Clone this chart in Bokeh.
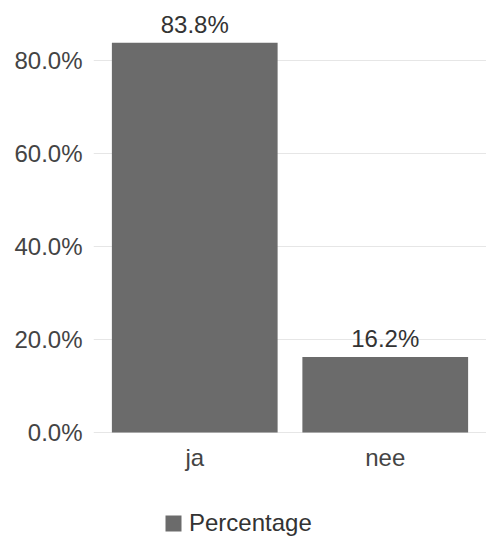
from bokeh.plotting import figure
from bokeh.models import (ColumnDataSource, FactorRange, Range1d, FixedTicker,
                          PrintfTickFormatter, Legend, LegendItem, LabelSet)
from bokeh.core.properties import value
from bokeh.embed import file_html
from bokeh.resources import INLINE

# Survey answers and their share of responses (in %)
categories = ["ja", "nee"]
percentages = [83.8, 16.2]
y_ticks = [0, 20, 40, 60, 80]
series_name = "Percentage"

FONT = "Liberation Sans"
BAR_COLOR = "#6b6b6b"

source = ColumnDataSource(data=dict(
    cat=categories,
    pct=percentages,
    base=[0] * len(categories),
    label=[f"{v:.1f}%" for v in percentages],
))

# The plot area runs down to the bottom edge so that the category names and
# the legend sit inside it, below the zero line.
p = figure(
    width=486, height=537,
    x_range=FactorRange(factors=categories, range_padding=0.0315,
                        range_padding_units="absolute"),
    y_range=Range1d(-22.6, 90.1),
    output_backend="svg", toolbar_location=None,
    min_border_top=13, min_border_right=0, min_border_left=93, min_border_bottom=0,
)
p.outline_line_color = None
p.background_fill_color = "white"
p.border_fill_color = "white"

bars = p.vbar(x="cat", top="pct", bottom="base", width=0.87, source=source,
              fill_color=BAR_COLOR, line_color=None)

# value labels above the bars
p.add_layout(LabelSet(x="cat", y="pct", text="label", source=source,
                      text_align="center", text_baseline="alphabetic", y_offset=10,
                      text_font=value(FONT), text_font_size=value("24px"),
                      text_color="#333333"))

# category names under the zero line
p.add_layout(LabelSet(x="cat", y="base", text="cat", source=source,
                      text_align="center", text_baseline="top", y_offset=-12,
                      text_font=value(FONT), text_font_size=value("24px"),
                      text_color="#444444"))
p.xaxis.visible = False

# y axis
p.yaxis.ticker = FixedTicker(ticks=y_ticks)
p.yaxis.formatter = PrintfTickFormatter(format="%.1f%%")
p.yaxis.axis_line_color = None
p.yaxis.major_tick_line_color = None
p.yaxis.minor_tick_line_color = None
p.yaxis.major_label_text_font = FONT
p.yaxis.major_label_text_font_size = "24px"
p.yaxis.major_label_text_color = "#444444"
p.yaxis.major_label_standoff = 5

p.xgrid.grid_line_color = None
p.ygrid.ticker = FixedTicker(ticks=y_ticks)
p.ygrid.grid_line_color = "#e6e6e6"
p.ygrid.grid_line_width = 1.2

# series legend at the bottom
legend = Legend(items=[LegendItem(label=series_name, renderers=[bars])],
                orientation="horizontal", location=(70, 0),
                label_text_font=FONT, label_text_font_size="24px",
                label_text_color="#333333",
                glyph_width=20, glyph_height=20, label_standoff=6,
                padding=0, margin=0, border_line_color=None,
                background_fill_alpha=0)
p.add_layout(legend, "center")

open("out.html", "w").write(file_html(p, INLINE))
